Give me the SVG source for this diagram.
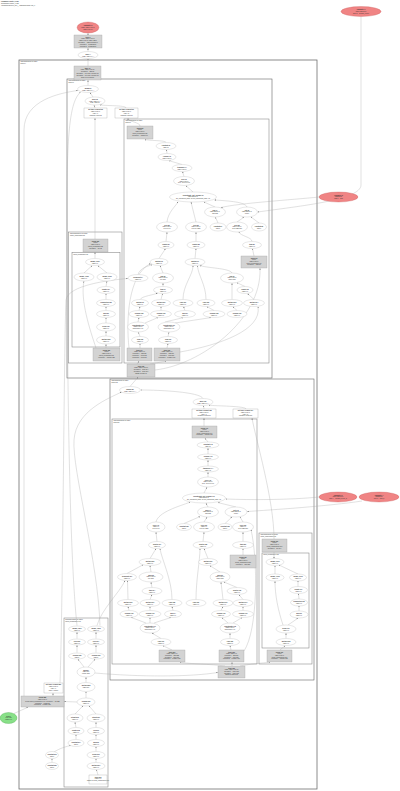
<svg xmlns="http://www.w3.org/2000/svg" width="400" height="791" viewBox="0 0 400 791">
<defs>
<marker id="a" viewBox="0 0 10 10" refX="10" refY="5" markerWidth="1.5" markerHeight="1.5" markerUnits="userSpaceOnUse" orient="auto"><path d="M0,0L10,5L0,10z" fill="#777"/></marker>
<style>
.e{fill:#fff;stroke:#b0b0b0;stroke-width:.3}
.g{fill:#d3d3d3;stroke:#999;stroke-width:.3}
.w{fill:#fff;stroke:#999;stroke-width:.3}
.r{fill:#f08484;stroke:#c45454;stroke-width:.3}
.gn{fill:#88e088;stroke:#3a9a3a;stroke-width:.3}
.c0{fill:none;stroke:#666;stroke-width:.75}
.c1{fill:none;stroke:#666;stroke-width:.6}
.c2{fill:none;stroke:#777;stroke-width:.5}
text{font-family:"Liberation Sans",Arial,sans-serif;font-size:1.5px;fill:#333;text-anchor:middle}
text.l{text-anchor:start}
text.b{font-weight:bold}
#edges path{fill:none;stroke:#a8a8a8;stroke-width:.35;marker-end:url(#a)}
</style>
</defs>
<rect width="400" height="791" fill="#fff"/>
<g id="title">
<text class="l b" x="1" y="2.2">HloModule cluster_0.156</text>
<text class="l" x="1" y="3.9">Computation cluster_0.156</text>
<text class="l" x="1" y="5.6">XlaCompiledKernel_true__XlaNumConstantArgs_0</text>
</g>

<g id="clusters">
<rect class="c0" x="19" y="60" width="298" height="729"/>
<text class="l" x="20.5" y="62.3">Subcomputation for while</text><text class="l" x="20.5" y="64">body.34</text>
<rect class="c1" x="67" y="79" width="205" height="299"/>
<text class="l" x="68.5" y="81.3">Subcomputation for while</text><text class="l" x="68.5" y="83">body.60</text>
<rect class="c2" x="124" y="119" width="145" height="244"/>
<text class="l" x="125.5" y="121.3">Subcomputation for while</text><text class="l" x="125.5" y="123">body.70</text>
<rect class="c2" x="68.5" y="232" width="53.5" height="131"/>
<text class="l" x="70" y="234.2">Subcomputation for fusion</text><text class="l" x="70" y="235.9">fused_computation.88</text>
<rect class="c2" x="72" y="252.5" width="48" height="94.5"/>
<text class="l" x="73.3" y="254.6">fused_computation.89</text>
<rect class="c1" x="110" y="379" width="204" height="301"/>
<text class="l" x="111.5" y="381.3">Subcomputation for while</text><text class="l" x="111.5" y="383">body.102</text>
<rect class="c2" x="112" y="419" width="145" height="245"/>
<text class="l" x="113.5" y="421.3">Subcomputation for while</text><text class="l" x="113.5" y="423">body.110</text>
<rect class="c2" x="259" y="533" width="53" height="131"/>
<text class="l" x="260.5" y="535.2">Subcomputation for fusion</text><text class="l" x="260.5" y="536.9">fused_computation.130</text>
<rect class="c2" x="262" y="553" width="47" height="95"/>
<text class="l" x="263.3" y="555.1">fused_computation.131</text>
<rect class="c2" x="64" y="618" width="44" height="169"/>
<text class="l" x="65.3" y="620.2">Subcomputation for fusion</text><text class="l" x="65.3" y="621.9">fused_computation.140</text>
</g>

<g id="edges">
<path d="M88 35L88 33.2"/>
<path d="M88 51.5L88 48.2"/>
<path d="M88 66L88 58.7"/>
<path d="M88 85.5L88 80.2"/>
<path d="M93 97L90 92.6"/>
<path d="M95 108L94 105.2"/>
<path d="M126 108C126 105 104 106 100 104.8"/>
<path d="M95 239L95 118.2"/>
<path d="M140 126C140 122 128 122 128 118.2"/>
<path d="M24 696L24 130C24 100 60 93 77.8 90.5"/>
<path d="M60 683C63 600 64 340 66 300C68 285 110 280 127.8 278.5"/>
<path d="M77 625.5C70 560 67 400 67 200C67 120 72 100 80.5 92.2"/>
<path d="M166 142.5C166 140 147 141 145 139.2"/>
<path d="M167 153.5L166.5 149.7"/>
<path d="M182 164.5L169 160.7"/>
<path d="M184 176.5L182.5 171.7"/>
<path d="M193 192L186 185.7"/>
<path d="M215 207L204 202"/>
<path d="M247 207C245 202 230 201 214.5 200"/>
<path d="M167 222C168 212 176 206 178 201.8"/>
<path d="M196 222L191 202.1"/>
<path d="M218 223L215.5 217.2"/>
<path d="M237 222L244 217.2"/>
<path d="M259 223L251 217"/>
<path d="M166 241.5L167 232.2"/>
<path d="M196 241.5L196 232.2"/>
<path d="M252 241.5C252 237 240 236 239 232"/>
<path d="M159 258.5L165.5 248.7"/>
<path d="M195 258.5L196 248.7"/>
<path d="M254 256L252.5 248.7"/>
<path d="M163 273L160 265.7"/>
<path d="M232 273C230 268 205 268 200 265.4"/>
<path d="M138 274.5C140 268 148 266 152 264.8"/>
<path d="M163 286.5L163 283.2"/>
<path d="M245 286.5L237 282.7"/>
<path d="M140 299.5C142 296 154 295 157.5 293"/>
<path d="M161 299.5L162.5 293.7"/>
<path d="M183 299.5C183 285 193 275 193 265.8"/>
<path d="M206 299.5C206 285 198 275 197.5 265.8"/>
<path d="M232 299.5L232 283.2"/>
<path d="M254 299.5L247.5 293.6"/>
<path d="M139 310.5L140 306.7"/>
<path d="M161 310.5L161 306.7"/>
<path d="M185 310.5L183.5 306.7"/>
<path d="M214 310.5L207 306.7"/>
<path d="M237 310.5L233 306.7"/>
<path d="M138 322L139 317.7"/>
<path d="M145 323L158 317.5"/>
<path d="M165 322L183 317.7"/>
<path d="M175 323L211 317.6"/>
<path d="M140 336.5L138.5 332.2"/>
<path d="M168 336.5L169 332.2"/>
<path d="M140 348L140 343.7"/>
<path d="M167 348L168 343.7"/>
<path d="M137 364L139 361.2"/>
<path d="M150 364L166 361.2"/>
<path d="M155 370C200 365 262 320 260 268.3"/>
<path d="M129 348C126 320 128 275 150.5 263.5"/>
<path d="M180 352C220 345 262 330 258 306.8"/>
<path d="M95 258.5L95 252.2"/>
<path d="M84 273L92 265.7"/>
<path d="M107 273L98 265.7"/>
<path d="M106 286.5L107 281.2"/>
<path d="M106 299.5L106 293.7"/>
<path d="M106 310.5L106 306.7"/>
<path d="M106 323L106 317.7"/>
<path d="M106 336L106 331.2"/>
<path d="M106 348L106 344.2"/>
<path d="M96 348C90 330 80 300 84 281.2"/>
<path d="M130 386.5L138 377.2"/>
<path d="M203 398.5C200 392 160 390 140.8 390"/>
<path d="M204 409L203.5 405.7"/>
<path d="M246 409C246 406 215 406 209 405.2"/>
<path d="M204 426L204 418.2"/>
<path d="M274 539C274 500 256 440 252 418.2"/>
<path d="M100 625.5C98 560 72 470 74 440C76 410 110 398 121.5 392"/>
<path d="M97 625.5C101 610 120 592 125 580.7"/>
<path d="M77 638.5L77 632.2"/>
<path d="M96 638.5L96 632.2"/>
<path d="M77 652.5L77 645.2"/>
<path d="M96 652.5L96 645.2"/>
<path d="M84 667L78 659.2"/>
<path d="M88 667L95 659.2"/>
<path d="M86 682.5L86 677.2"/>
<path d="M86 698L86 691.7"/>
<path d="M75 714L83 705.8"/>
<path d="M96 714L89 705.8"/>
<path d="M76 727.5L75 722.2"/>
<path d="M96 727.5L96 722.2"/>
<path d="M76 739.5L76 734.7"/>
<path d="M96 739.5L96 734.7"/>
<path d="M96 751.5L96 746.7"/>
<path d="M96 762.5L96 758.7"/>
<path d="M98 775L96.5 769.7"/>
<path d="M52 762.5L52 758.7"/>
<path d="M54 752C60 748 68 746 71 745.5"/>
<path d="M95 673C140 677 190 677 217.8 672.5"/>
<path d="M53 696L53 693.2"/>
<path d="M14 713.5L28 707.2"/>
<path d="M77 702L64.2 701.5"/>
<path d="M208 442L205 438.2"/>
<path d="M208 454L208 448.2"/>
<path d="M208 466L208 460.2"/>
<path d="M208 477L208 472.2"/>
<path d="M204 493L207 487.2"/>
<path d="M208 507L206 503.2"/>
<path d="M236 507L218 502.6"/>
<path d="M156 522C158 512 180 506 190 502.2"/>
<path d="M184 523.5L200 516.6"/>
<path d="M204 522L207 517.2"/>
<path d="M225 523.5L232 517"/>
<path d="M243 522L240 517"/>
<path d="M157 541.5L156 532.2"/>
<path d="M203 541.5L204 532.2"/>
<path d="M243 541.5L243 532.2"/>
<path d="M150 558.5L156 548.7"/>
<path d="M208 558.5L204 548.7"/>
<path d="M243 555L243 548.7"/>
<path d="M127 573.5L143 564.8"/>
<path d="M151 572L150 565.7"/>
<path d="M220 572L210 565.7"/>
<path d="M152 587.5L151 582.2"/>
<path d="M237 587.5L224 582"/>
<path d="M128 599.5L127.5 580.7"/>
<path d="M150 599.5L152 594.7"/>
<path d="M172 599.5C172 580 162 560 160 548.8"/>
<path d="M196 599.5C196 580 200 560 200 548.8"/>
<path d="M223 599.5L221 582.2"/>
<path d="M243 599.5L239 594.7"/>
<path d="M129 610.5L128 606.7"/>
<path d="M150 610.5L150 606.7"/>
<path d="M173 610.5L172 606.7"/>
<path d="M221 610.5L223 606.7"/>
<path d="M243 610.5L243 606.7"/>
<path d="M146 623L131 617.4"/>
<path d="M150 623L150 617.7"/>
<path d="M154 623L171 617.5"/>
<path d="M228 623L222 617.7"/>
<path d="M233 623L242 617.6"/>
<path d="M161 638.5L152 633.1"/>
<path d="M230 638.5L230 633.2"/>
<path d="M172 650L163 645.7"/>
<path d="M231 650L230 645.7"/>
<path d="M225 666C210 664 190 664 180 662.3"/>
<path d="M232 666L232 662.2"/>
<path d="M240 666C250 664 262 663 270 662.3"/>
<path d="M319 497C290 500 250 500 225.8 499"/>
<path d="M362 501C330 506 270 510 247.2 511.5"/>
<path d="M244 651C258 630 258 560 251 529.5"/>
<path d="M274 552L274 558.5"/>
<path d="M275 574L275 565.7"/>
<path d="M298 574L279 565"/>
<path d="M298 587L298 580.7"/>
<path d="M299 599L298.5 593.7"/>
<path d="M299 611L299 605.7"/>
<path d="M288 625L298 618.2"/>
<path d="M283 625C278 610 275 595 275 581.2"/>
<path d="M286 638.5L286 633.2"/>
<path d="M280 650L285 645.7"/>
<path d="M319 197C290 200 240 203 221 207.5"/>
<path d="M361 16.5L361 185C361 200 300 206 257.8 212"/>
</g>

<g id="n_param0"><ellipse class="r" cx="88" cy="27.5" rx="11" ry="5.5"/><text class="b" x="88" y="26.2">Parameter 0</text><text x="88" y="27.9">(s32[], f32[1,64]{1,0},</text><text x="88" y="29.6">f32[1,64]{1,0})</text></g>
<g id="n_param1"><ellipse class="r" cx="361" cy="11.5" rx="20" ry="5"/><text class="b" x="361" y="10.2">Parameter 1</text><text x="361" y="11.9">f32[64,256]{1,0}</text><text x="361" y="13.6">arg1.2 = weights_kernel</text></g>
<g id="n_param2"><ellipse class="r" cx="338.5" cy="197" rx="19.5" ry="5"/><text class="b" x="338.5" y="195.7">Parameter 2</text><text x="338.5" y="197.4">f32[256]{0}</text><text x="338.5" y="199.1">arg2.3 = bias</text></g>
<g id="n_param3"><ellipse class="r" cx="338" cy="497" rx="19" ry="5"/><text class="b" x="338" y="495.7">Parameter 3</text><text x="338" y="497.4">f32[64,256]{1,0}</text><text x="338" y="499.1">arg3.4 = weights_kernel_2</text></g>
<g id="n_param4"><ellipse class="r" cx="379" cy="497" rx="20" ry="5"/><text class="b" x="379" y="495.7">Parameter 4</text><text x="379" y="497.4">f32[256]{0}</text><text x="379" y="499.1">arg4.5 = bias_2</text></g>
<g id="n_root"><ellipse class="gn" cx="8.5" cy="718" rx="8.5" ry="5.5"/><text class="b" x="8.5" y="716.7">ROOT</text><text x="8.5" y="718.4">tuple.155</text><text x="8.5" y="720.1">(f32[1,64])</text></g>

<g id="n_tuple3"><rect class="g" x="74" y="35" width="28" height="13"/><text class="b" x="88" y="37.6">tuple.3</text><text x="88" y="39.4">(s32[], f32[1,64]{1,0},</text><text x="88" y="41.2">f32[1,64]{1,0}, f32[64,256])</text><text x="88" y="43">operand 0 = s32[] constant(0)</text><text x="88" y="44.8">operand 1 = broadcast.2</text><text x="88" y="46.6">operand 2 = broadcast.2</text></g>
<g id="n_while4"><ellipse class="e" cx="88" cy="55" rx="10" ry="3.5"/><text class="b" x="88" y="54.8">while.4</text><text x="88" y="56.5">(s32[], f32[1,64]...)</text></g>
<g id="n_tuple40"><rect class="g" x="74" y="66" width="27" height="14"/><text class="b" x="87.5" y="68.6">tuple.40</text><text x="87.5" y="70.4">(s32[], f32[1,64]{1,0})</text><text x="87.5" y="72.2">operand 0 = add.38</text><text x="87.5" y="74">operand 1 = get-tuple-element.39</text><text x="87.5" y="75.8">operand 2 = get-tuple-element.37</text><text x="87.5" y="77.6">Tuple of 5 elements</text></g>
<g id="n_param21"><ellipse class="e" cx="88" cy="89" rx="10.5" ry="3.5"/><text class="b" x="88" y="88.8">param.21</text><text x="88" y="90.5">(s32[], f32[1,64]...)</text></g>
<g id="n_while30"><ellipse class="e" cx="95" cy="101" rx="10" ry="4"/><text class="b" x="95" y="99.8">while.30</text><text x="95" y="101.5">(s32[], f32[1,64]...)</text><text x="95" y="103.2">body=body.60</text></g>
<g id="n_gte35"><rect class="w" x="84" y="108" width="23" height="10"/><text class="b" x="95.5" y="110.4">get-tuple-element.35</text><text x="95.5" y="112.1">f32[1,64]{1,0}</text><text x="95.5" y="113.8">index=1</text><text x="95.5" y="115.5">condition: cond.32</text></g>
<g id="n_gte36"><rect class="w" x="115" y="108" width="23" height="10"/><text class="b" x="126.5" y="110.4">get-tuple-element.36</text><text x="126.5" y="112.1">f32[1,64]{1,0}</text><text x="126.5" y="113.8">index=2</text><text x="126.5" y="115.5">condition: cond.33</text></g>

<g id="n_fusion80"><rect class="g" x="127" y="126" width="26" height="13"/><text class="b" x="140" y="128.6">fusion.80</text><text x="140" y="130.4">kLoop</text><text x="140" y="132.2">f32[1,64]{1,0}</text><text x="140" y="134">fused_computation.81</text><text x="140" y="135.8">operand 0 = multiply.79</text></g>
<g id="n_c72"><ellipse class="e" cx="166" cy="146" rx="10" ry="3.5"/><text class="b" x="166" y="145.8">constant.72</text><text x="166" y="147.5">f32[] 0.5</text></g>
<g id="n_bc73"><ellipse class="e" cx="167" cy="157" rx="9" ry="3.5"/><text class="b" x="167" y="156.8">reshape.73</text><text x="167" y="158.5">f32[1,64]{1,0}</text></g>
<g id="n_s74"><ellipse class="e" cx="182" cy="168" rx="10" ry="3.5"/><text class="b" x="182" y="167.8">transpose.74</text><text x="182" y="169.5">f32[64,1]{1,0}</text></g>
<g id="n_s75"><ellipse class="e" cx="184" cy="181" rx="10.5" ry="4.5"/><text class="b" x="184" y="179.8">slice.75</text><text x="184" y="181.5">f32[1,64]{1,0}</text><text x="184" y="183.2">slice={[0:1],[0:64]}</text></g>
<g id="n_dot76"><ellipse class="e" cx="193" cy="197" rx="23.5" ry="5"/><text class="b" x="193" y="195.7">concatenate_dot_reshape.76</text><text x="193" y="197.4">f32[1,256]{1,0}</text><text x="193" y="199.1">lhs_contracting_dims={1} rhs_contracting_dims={0}</text></g>
<g id="n_add77"><ellipse class="e" cx="215" cy="212" rx="10.5" ry="5"/><text class="b" x="215" y="210.7">add.77</text><text x="215" y="212.4">f32[1,256]{1,0}</text><text x="215" y="214.1">bias add</text></g>
<g id="n_dot78"><ellipse class="e" cx="247" cy="212" rx="10.5" ry="5"/><text class="b" x="247" y="210.7">dot.78</text><text x="247" y="212.4">f32[1,256]{1,0}</text><text x="247" y="214.1">kernel</text></g>
<g id="n_sl1"><ellipse class="e" cx="167" cy="227" rx="10.5" ry="5"/><text class="b" x="167" y="225.7">slice.82</text><text x="167" y="227.4">f32[1,64]{1,0}</text><text x="167" y="229.1">[0:1],[0:64]</text></g>
<g id="n_sl2"><ellipse class="e" cx="196" cy="227" rx="10.5" ry="5"/><text class="b" x="196" y="225.7">slice.83</text><text x="196" y="227.4">f32[1,64]{1,0}</text><text x="196" y="229.1">[0:1],[64:128]</text></g>
<g id="n_c84"><ellipse class="e" cx="218" cy="227" rx="8" ry="4"/><text class="b" x="218" y="226.8">constant.84</text><text x="218" y="228.5">f32[] 1</text></g>
<g id="n_sl3"><ellipse class="e" cx="237" cy="227" rx="10.5" ry="5"/><text class="b" x="237" y="225.7">slice.85</text><text x="237" y="227.4">f32[1,64]{1,0}</text><text x="237" y="229.1">[0:1],[128:192]</text></g>
<g id="n_c86"><ellipse class="e" cx="259" cy="227" rx="7.5" ry="4"/><text class="b" x="259" y="226.8">constant.86</text><text x="259" y="228.5">f32[] 0</text></g>
<g id="n_lg1"><ellipse class="e" cx="166" cy="245" rx="8" ry="3.5"/><text class="b" x="166" y="244.8">logistic.87</text><text x="166" y="246.5">f32[1,64]</text></g>
<g id="n_lg2"><ellipse class="e" cx="196" cy="245" rx="9" ry="3.5"/><text class="b" x="196" y="244.8">logistic.88</text><text x="196" y="246.5">f32[1,64]</text></g>
<g id="n_tanh1"><ellipse class="e" cx="252" cy="245" rx="9.5" ry="3.5"/><text class="b" x="252" y="244.8">tanh.89</text><text x="252" y="246.5">f32[1,64]</text></g>
<g id="n_m1"><ellipse class="e" cx="159" cy="262" rx="9" ry="3.5"/><text class="b" x="159" y="261.8">multiply.90</text><text x="159" y="263.5">f32[1,64]</text></g>
<g id="n_m2"><ellipse class="e" cx="195" cy="262" rx="10" ry="3.5"/><text class="b" x="195" y="261.8">multiply.91</text><text x="195" y="263.5">f32[1,64]</text></g>
<g id="n_fusion92"><rect class="g" x="241" y="256" width="26" height="12"/><text class="b" x="254" y="258.5">fusion.92</text><text x="254" y="260.2">kLoop</text><text x="254" y="261.9">f32[1,64]{1,0}</text><text x="254" y="263.6">fused_computation.93</text><text x="254" y="265.3">operand 0 = tanh.89</text></g>
<g id="n_bc94"><ellipse class="e" cx="138" cy="278" rx="10" ry="3.5"/><text class="b" x="138" y="277.8">broadcast.94</text><text x="138" y="279.5">f32[1,64]</text></g>
<g id="n_add95"><ellipse class="e" cx="163" cy="278" rx="10.5" ry="5"/><text class="b" x="163" y="276.7">add.95</text><text x="163" y="278.4">f32[1,64]{1,0}</text><text x="163" y="280.1">cell state</text></g>
<g id="n_add96"><ellipse class="e" cx="232" cy="278" rx="11.5" ry="5"/><text class="b" x="232" y="276.7">add.96</text><text x="232" y="278.4">f32[1,64]{1,0}</text><text x="232" y="280.1">forget bias</text></g>
<g id="n_t97"><ellipse class="e" cx="163" cy="290" rx="9.5" ry="3.5"/><text class="b" x="163" y="289.8">tanh.97</text><text x="163" y="291.5">f32[1,64]</text></g>
<g id="n_lg98"><ellipse class="e" cx="245" cy="290" rx="8" ry="3.5"/><text class="b" x="245" y="289.8">logistic.98</text><text x="245" y="291.5">f32[1,64]</text></g>
<g id="n_r303a"><ellipse class="e" cx="140" cy="303" rx="8.5" ry="3.5"/><text class="b" x="140" y="302.8">multiply.99</text><text x="140" y="304.5">f32[1,64]</text></g>
<g id="n_r303b"><ellipse class="e" cx="161" cy="303" rx="9.5" ry="3.5"/><text class="b" x="161" y="302.8">multiply.100</text><text x="161" y="304.5">f32[1,64]</text></g>
<g id="n_r303c"><ellipse class="e" cx="183" cy="303" rx="10" ry="3.5"/><text class="b" x="183" y="302.8">copy.101</text><text x="183" y="304.5">f32[1,64]</text></g>
<g id="n_r303d"><ellipse class="e" cx="206" cy="303" rx="9" ry="3.5"/><text class="b" x="206" y="302.8">copy.102</text><text x="206" y="304.5">f32[1,64]</text></g>
<g id="n_r303e"><ellipse class="e" cx="232" cy="303" rx="10.5" ry="3.5"/><text class="b" x="232" y="302.8">multiply.103</text><text x="232" y="304.5">f32[1,64]</text></g>
<g id="n_r303f"><ellipse class="e" cx="254" cy="303" rx="10.5" ry="3.5"/><text class="b" x="254" y="302.8">multiply.104</text><text x="254" y="304.5">f32[1,64]</text></g>
<g id="n_r314a"><ellipse class="e" cx="139" cy="314" rx="10" ry="3.5"/><text class="b" x="139" y="313.8">reshape.105</text><text x="139" y="315.5">f32[1,64]</text></g>
<g id="n_r314b"><ellipse class="e" cx="161" cy="314" rx="10.5" ry="3.5"/><text class="b" x="161" y="313.8">reshape.106</text><text x="161" y="315.5">f32[1,64]</text></g>
<g id="n_r314c"><ellipse class="e" cx="185" cy="314" rx="10.5" ry="3.5"/><text class="b" x="185" y="313.8">add.107</text><text x="185" y="315.5">f32[1,64]</text></g>
<g id="n_r314d"><ellipse class="e" cx="214" cy="314" rx="11" ry="3.5"/><text class="b" x="214" y="313.8">reshape.108</text><text x="214" y="315.5">f32[1,64]</text></g>
<g id="n_r314e"><ellipse class="e" cx="237" cy="314" rx="10" ry="3.5"/><text class="b" x="237" y="313.8">reshape.109</text><text x="237" y="315.5">f32[1,64]</text></g>
<g id="n_cc1"><ellipse class="e" cx="138" cy="327" rx="10.5" ry="5"/><text class="b" x="138" y="325.7">concatenate.110</text><text x="138" y="327.4">f32[2,64]{1,0}</text><text x="138" y="329.1">dimensions={0}</text></g>
<g id="n_cc2"><ellipse class="e" cx="169" cy="327" rx="11" ry="5"/><text class="b" x="169" y="325.7">concatenate.111</text><text x="169" y="327.4">f32[2,64]{1,0}</text><text x="169" y="329.1">dimensions={0}</text></g>
<g id="n_cp1"><ellipse class="e" cx="140" cy="340" rx="8.5" ry="3.5"/><text class="b" x="140" y="339.8">copy.112</text><text x="140" y="341.5">f32[2,64]</text></g>
<g id="n_cp2"><ellipse class="e" cx="168" cy="340" rx="9.5" ry="3.5"/><text class="b" x="168" y="339.8">copy.113</text><text x="168" y="341.5">f32[2,64]</text></g>
<g id="n_tup114"><rect class="g" x="127" y="348" width="25" height="13"/><text class="b" x="139.5" y="350.6">tuple.114</text><text x="139.5" y="352.4">(s32[], f32[1,64])</text><text x="139.5" y="354.2">operand 0 = add.115</text><text x="139.5" y="356">operand 1 = copy.112</text><text x="139.5" y="357.8">operand 2 = copy.113</text></g>
<g id="n_tup116"><rect class="g" x="154" y="348" width="26" height="13"/><text class="b" x="167" y="350.6">tuple.116</text><text x="167" y="352.4">(s32[], f32[1,64])</text><text x="167" y="354.2">operand 0 = add.117</text><text x="167" y="356">operand 1 = copy.113</text><text x="167" y="357.8">operand 2 = reshape.109</text></g>
<g id="n_tup118"><rect class="g" x="127" y="364" width="28" height="13"/><text class="b" x="141" y="366.6">tuple.118</text><text x="141" y="368.4">(s32[], f32[1,64]{1,0})</text><text x="141" y="370.2">operand 0 = tuple.114</text><text x="141" y="372">operand 1 = tuple.116</text><text x="141" y="373.8">ROOT of body.60</text></g>

<g id="n_fusion120"><rect class="g" x="83" y="239" width="25" height="13"/><text class="b" x="95.5" y="241.6">fusion.120</text><text x="95.5" y="243.4">kLoop</text><text x="95.5" y="245.2">f32[1,64]{1,0}</text><text x="95.5" y="247">fused_computation.88</text><text x="95.5" y="248.8">operand 0 = gte.35</text></g>
<g id="n_f1"><ellipse class="e" cx="95" cy="262" rx="9.5" ry="3.5"/><text class="b" x="95" y="261.8">param_0.121</text><text x="95" y="263.5">f32[1,64]</text></g>
<g id="n_f2"><ellipse class="e" cx="84" cy="277" rx="10" ry="4"/><text class="b" x="84" y="276.8">param_1.122</text><text x="84" y="278.5">f32[1,64]</text></g>
<g id="n_f3"><ellipse class="e" cx="107" cy="277" rx="10" ry="4"/><text class="b" x="107" y="276.8">param_2.123</text><text x="107" y="278.5">f32[1,64]</text></g>
<g id="n_f4"><ellipse class="e" cx="106" cy="290" rx="9" ry="3.5"/><text class="b" x="106" y="289.8">negate.124</text><text x="106" y="291.5">f32[1,64]</text></g>
<g id="n_f5"><ellipse class="e" cx="106" cy="303" rx="9.5" ry="3.5"/><text class="b" x="106" y="302.8">exponential.125</text><text x="106" y="304.5">f32[1,64]</text></g>
<g id="n_f6"><ellipse class="e" cx="106" cy="314" rx="9.5" ry="3.5"/><text class="b" x="106" y="313.8">add.126</text><text x="106" y="315.5">f32[1,64]</text></g>
<g id="n_f7"><ellipse class="e" cx="106" cy="327" rx="9.5" ry="4"/><text class="b" x="106" y="326.8">divide.127</text><text x="106" y="328.5">f32[1,64]</text></g>
<g id="n_f8"><ellipse class="e" cx="106" cy="340" rx="9.5" ry="4"/><text class="b" x="106" y="339.8">multiply.128</text><text x="106" y="341.5">f32[1,64]</text></g>
<g id="n_fusion129"><rect class="g" x="93" y="348" width="27" height="13"/><text class="b" x="106.5" y="350.6">fusion.129</text><text x="106.5" y="352.4">kLoop</text><text x="106.5" y="354.2">f32[1,64]{1,0}</text><text x="106.5" y="356">fused_computation.89</text><text x="106.5" y="357.8">operand 0 = multiply.128</text></g>

<g id="n_gte130"><ellipse class="e" cx="130" cy="390" rx="10.5" ry="3.5"/><text class="b" x="130" y="389.8">param.130</text><text x="130" y="391.5">(s32[], f32[1,64]...)</text></g>
<g id="n_while131"><ellipse class="e" cx="203" cy="402" rx="10" ry="3.5"/><text class="b" x="203" y="401.8">while.131</text><text x="203" y="403.5">(s32[], f32[1,64]...)</text></g>
<g id="n_gte132"><rect class="w" x="192" y="409" width="24" height="9"/><text class="b" x="204" y="411.2">get-tuple-element.132</text><text x="204" y="412.9">f32[1,64]{1,0}</text><text x="204" y="414.6">index=1</text><text x="204" y="416.3">condition: cond.133</text></g>
<g id="n_gte134"><rect class="w" x="233" y="409" width="25" height="9"/><text class="b" x="245.5" y="411.2">get-tuple-element.134</text><text x="245.5" y="412.9">f32[1,64]{1,0}</text><text x="245.5" y="414.6">index=2</text><text x="245.5" y="416.3">condition: cond.135</text></g>

<g id="n_fusion140"><rect class="g" x="192" y="426" width="25" height="12"/><text class="b" x="204.5" y="428.5">fusion.140</text><text x="204.5" y="430.2">kLoop</text><text x="204.5" y="431.9">f32[1,64]{1,0}</text><text x="204.5" y="433.6">fused_computation.141</text><text x="204.5" y="435.3">operand 0 = multiply.139</text></g>
<g id="n_b1"><ellipse class="e" cx="208" cy="445" rx="11" ry="3"/><text class="b" x="208" y="444.8">constant.142</text><text x="208" y="446.5">f32[] 0.5</text></g>
<g id="n_b2"><ellipse class="e" cx="208" cy="457" rx="10.5" ry="3"/><text class="b" x="208" y="456.8">reshape.143</text><text x="208" y="458.5">f32[1,64]</text></g>
<g id="n_b3"><ellipse class="e" cx="208" cy="469" rx="10.5" ry="3"/><text class="b" x="208" y="468.8">transpose.144</text><text x="208" y="470.5">f32[64,1]</text></g>
<g id="n_b4"><ellipse class="e" cx="208" cy="482" rx="10.5" ry="5"/><text class="b" x="208" y="480.7">slice.145</text><text x="208" y="482.4">f32[1,64]{1,0}</text><text x="208" y="484.1">slice={[0:1],[0:64]}</text></g>
<g id="n_b5"><ellipse class="e" cx="204" cy="498" rx="21.5" ry="5"/><text class="b" x="204" y="496.7">concatenate_dot_reshape.146</text><text x="204" y="498.4">f32[1,256]{1,0}</text><text x="204" y="500.1">lhs_contracting_dims={1} rhs_contracting_dims={0}</text></g>
<g id="n_b6"><ellipse class="e" cx="208" cy="512" rx="10.5" ry="5"/><text class="b" x="208" y="510.7">add.147</text><text x="208" y="512.4">f32[1,256]{1,0}</text><text x="208" y="514.1">bias add</text></g>
<g id="n_b7"><ellipse class="e" cx="236" cy="512" rx="11" ry="5"/><text class="b" x="236" y="510.7">dot.148</text><text x="236" y="512.4">f32[1,256]{1,0}</text><text x="236" y="514.1">kernel</text></g>
<g id="n_b8"><ellipse class="e" cx="156" cy="527" rx="9" ry="5"/><text class="b" x="156" y="525.7">slice.149</text><text x="156" y="527.4">f32[1,64]</text><text x="156" y="529.1">[0:1],[0:64]</text></g>
<g id="n_b9"><ellipse class="e" cx="184" cy="527" rx="7.5" ry="3.5"/><text class="b" x="184" y="526.8">constant.150</text><text x="184" y="528.5">f32[] 1</text></g>
<g id="n_b10"><ellipse class="e" cx="204" cy="527" rx="10.5" ry="5"/><text class="b" x="204" y="525.7">slice.151</text><text x="204" y="527.4">f32[1,64]</text><text x="204" y="529.1">[0:1],[64:128]</text></g>
<g id="n_b11"><ellipse class="e" cx="225" cy="527" rx="7" ry="3.5"/><text class="b" x="225" y="526.8">constant.152</text><text x="225" y="528.5">f32[] 0</text></g>
<g id="n_b12"><ellipse class="e" cx="243" cy="527" rx="10.5" ry="5"/><text class="b" x="243" y="525.7">slice.153</text><text x="243" y="527.4">f32[1,64]</text><text x="243" y="529.1">[0:1],[128:192]</text></g>
<g id="n_b13"><ellipse class="e" cx="157" cy="545" rx="8.5" ry="3.5"/><text class="b" x="157" y="544.8">logistic.154</text><text x="157" y="546.5">f32[1,64]</text></g>
<g id="n_b14"><ellipse class="e" cx="203" cy="545" rx="10" ry="3.5"/><text class="b" x="203" y="544.8">logistic.155</text><text x="203" y="546.5">f32[1,64]</text></g>
<g id="n_b15"><ellipse class="e" cx="243" cy="545" rx="10.5" ry="3.5"/><text class="b" x="243" y="544.8">tanh.156</text><text x="243" y="546.5">f32[1,64]</text></g>
<g id="n_fusion157"><rect class="g" x="230" y="555" width="26" height="13"/><text class="b" x="243" y="557.6">fusion.157</text><text x="243" y="559.4">kLoop</text><text x="243" y="561.2">f32[1,64]{1,0}</text><text x="243" y="563">fused_computation.158</text><text x="243" y="564.8">operand 0 = tanh.156</text></g>
<g id="n_b16"><ellipse class="e" cx="150" cy="562" rx="11" ry="3.5"/><text class="b" x="150" y="561.8">multiply.159</text><text x="150" y="563.5">f32[1,64]</text></g>
<g id="n_b17"><ellipse class="e" cx="208" cy="562" rx="9.5" ry="3.5"/><text class="b" x="208" y="561.8">multiply.160</text><text x="208" y="563.5">f32[1,64]</text></g>
<g id="n_b18"><ellipse class="e" cx="127" cy="577" rx="9.5" ry="3.5"/><text class="b" x="127" y="576.8">broadcast.161</text><text x="127" y="578.5">f32[1,64]</text></g>
<g id="n_b19"><ellipse class="e" cx="151" cy="577" rx="12" ry="5"/><text class="b" x="151" y="575.7">add.162</text><text x="151" y="577.4">f32[1,64]{1,0}</text><text x="151" y="579.1">cell state</text></g>
<g id="n_b20"><ellipse class="e" cx="220" cy="577" rx="10" ry="5"/><text class="b" x="220" y="575.7">add.163</text><text x="220" y="577.4">f32[1,64]{1,0}</text><text x="220" y="579.1">forget bias</text></g>
<g id="n_b21"><ellipse class="e" cx="152" cy="591" rx="10" ry="3.5"/><text class="b" x="152" y="590.8">tanh.164</text><text x="152" y="592.5">f32[1,64]</text></g>
<g id="n_b22"><ellipse class="e" cx="237" cy="591" rx="10" ry="3.5"/><text class="b" x="237" y="590.8">logistic.165</text><text x="237" y="592.5">f32[1,64]</text></g>
<g id="n_b23"><ellipse class="e" cx="128" cy="603" rx="10.5" ry="3.5"/><text class="b" x="128" y="602.8">multiply.166</text><text x="128" y="604.5">f32[1,64]</text></g>
<g id="n_b24"><ellipse class="e" cx="150" cy="603" rx="10" ry="3.5"/><text class="b" x="150" y="602.8">multiply.167</text><text x="150" y="604.5">f32[1,64]</text></g>
<g id="n_b25"><ellipse class="e" cx="172" cy="603" rx="10" ry="3.5"/><text class="b" x="172" y="602.8">copy.168</text><text x="172" y="604.5">f32[1,64]</text></g>
<g id="n_b26"><ellipse class="e" cx="196" cy="603" rx="10" ry="3.5"/><text class="b" x="196" y="602.8">copy.169</text><text x="196" y="604.5">f32[1,64]</text></g>
<g id="n_b27"><ellipse class="e" cx="223" cy="603" rx="10" ry="3.5"/><text class="b" x="223" y="602.8">multiply.170</text><text x="223" y="604.5">f32[1,64]</text></g>
<g id="n_b28"><ellipse class="e" cx="243" cy="603" rx="10" ry="3.5"/><text class="b" x="243" y="602.8">multiply.171</text><text x="243" y="604.5">f32[1,64]</text></g>
<g id="n_b29"><ellipse class="e" cx="129" cy="614" rx="9" ry="3.5"/><text class="b" x="129" y="613.8">reshape.172</text><text x="129" y="615.5">f32[1,64]</text></g>
<g id="n_b30"><ellipse class="e" cx="150" cy="614" rx="11" ry="3.5"/><text class="b" x="150" y="613.8">reshape.173</text><text x="150" y="615.5">f32[1,64]</text></g>
<g id="n_b31"><ellipse class="e" cx="173" cy="614" rx="8.5" ry="3.5"/><text class="b" x="173" y="613.8">add.174</text><text x="173" y="615.5">f32[1,64]</text></g>
<g id="n_b32"><ellipse class="e" cx="221" cy="614" rx="9.5" ry="3.5"/><text class="b" x="221" y="613.8">reshape.175</text><text x="221" y="615.5">f32[1,64]</text></g>
<g id="n_b33"><ellipse class="e" cx="243" cy="614" rx="10.5" ry="3.5"/><text class="b" x="243" y="613.8">reshape.176</text><text x="243" y="615.5">f32[1,64]</text></g>
<g id="n_b34"><ellipse class="e" cx="150" cy="628" rx="10" ry="5"/><text class="b" x="150" y="626.7">concatenate.177</text><text x="150" y="628.4">f32[2,64]{1,0}</text><text x="150" y="630.1">dimensions={0}</text></g>
<g id="n_b35"><ellipse class="e" cx="230" cy="628" rx="10" ry="5"/><text class="b" x="230" y="626.7">concatenate.178</text><text x="230" y="628.4">f32[2,64]{1,0}</text><text x="230" y="630.1">dimensions={0}</text></g>
<g id="n_b36"><ellipse class="e" cx="161" cy="642" rx="10" ry="3.5"/><text class="b" x="161" y="641.8">copy.179</text><text x="161" y="643.5">f32[2,64]</text></g>
<g id="n_b37"><ellipse class="e" cx="230" cy="642" rx="9.5" ry="3.5"/><text class="b" x="230" y="641.8">copy.180</text><text x="230" y="643.5">f32[2,64]</text></g>
<g id="n_tup181"><rect class="g" x="159" y="650" width="26" height="12"/><text class="b" x="172" y="652.5">tuple.181</text><text x="172" y="654.2">(s32[], f32[1,64])</text><text x="172" y="655.9">operand 0 = add.182</text><text x="172" y="657.6">operand 1 = copy.179</text><text x="172" y="659.3">operand 2 = reshape.172</text></g>
<g id="n_tup183"><rect class="g" x="219" y="650" width="25" height="12"/><text class="b" x="231.5" y="652.5">tuple.183</text><text x="231.5" y="654.2">(s32[], f32[1,64])</text><text x="231.5" y="655.9">operand 0 = add.184</text><text x="231.5" y="657.6">operand 1 = copy.180</text><text x="231.5" y="659.3">operand 2 = reshape.176</text></g>
<g id="n_tup185"><rect class="g" x="218" y="666" width="27" height="12"/><text class="b" x="231.5" y="668.5">tuple.185</text><text x="231.5" y="670.2">(s32[], f32[1,64]{1,0})</text><text x="231.5" y="671.9">operand 0 = tuple.181</text><text x="231.5" y="673.6">operand 1 = tuple.183</text><text x="231.5" y="675.3">ROOT of body.102</text></g>

<g id="n_fusion190"><rect class="g" x="262" y="539" width="25" height="13"/><text class="b" x="274.5" y="541.6">fusion.190</text><text x="274.5" y="543.4">kLoop</text><text x="274.5" y="545.2">f32[1,64]{1,0}</text><text x="274.5" y="547">fused_computation.130</text><text x="274.5" y="548.8">operand 0 = gte.134</text></g>
<g id="n_g1"><ellipse class="e" cx="275" cy="562" rx="9" ry="3.5"/><text class="b" x="275" y="561.8">param_0.191</text><text x="275" y="563.5">f32[1,64]</text></g>
<g id="n_g2"><ellipse class="e" cx="275" cy="577.5" rx="9" ry="3.5"/><text class="b" x="275" y="577.3">param_1.192</text><text x="275" y="579">f32[1,64]</text></g>
<g id="n_g3"><ellipse class="e" cx="298" cy="577.5" rx="8.5" ry="3.5"/><text class="b" x="298" y="577.3">param_2.193</text><text x="298" y="579">f32[1,64]</text></g>
<g id="n_g4"><ellipse class="e" cx="298.5" cy="590" rx="9" ry="3.5"/><text class="b" x="298.5" y="589.8">negate.194</text><text x="298.5" y="591.5">f32[1,64]</text></g>
<g id="n_g5"><ellipse class="e" cx="299" cy="602.5" rx="8.5" ry="3.5"/><text class="b" x="299" y="602.3">exponential.195</text><text x="299" y="604">f32[1,64]</text></g>
<g id="n_g6"><ellipse class="e" cx="299" cy="614.5" rx="9" ry="3.5"/><text class="b" x="299" y="614.3">add.196</text><text x="299" y="616">f32[1,64]</text></g>
<g id="n_g7"><ellipse class="e" cx="286" cy="629" rx="10" ry="4"/><text class="b" x="286" y="628.8">divide.197</text><text x="286" y="630.5">f32[1,64]</text></g>
<g id="n_g8"><ellipse class="e" cx="286" cy="642" rx="10" ry="3.5"/><text class="b" x="286" y="641.8">multiply.198</text><text x="286" y="643.5">f32[1,64]</text></g>
<g id="n_fusion199"><rect class="g" x="267" y="650" width="25" height="12"/><text class="b" x="279.5" y="652.5">fusion.199</text><text x="279.5" y="654.2">kLoop</text><text x="279.5" y="655.9">f32[1,64]{1,0}</text><text x="279.5" y="657.6">fused_computation.131</text><text x="279.5" y="659.3">operand 0 = multiply.198</text></g>

<g id="n_h1"><ellipse class="e" cx="77" cy="629" rx="8.5" ry="3"/><text class="b" x="77" y="628.8">param_0.201</text><text x="77" y="630.5">f32[1,64]</text></g>
<g id="n_h2"><ellipse class="e" cx="96" cy="629" rx="8.5" ry="3"/><text class="b" x="96" y="628.8">param_1.202</text><text x="96" y="630.5">f32[1,64]</text></g>
<g id="n_h3"><ellipse class="e" cx="77" cy="642" rx="8.5" ry="3"/><text class="b" x="77" y="641.8">slice.203</text><text x="77" y="643.5">f32[1,64]</text></g>
<g id="n_h4"><ellipse class="e" cx="96" cy="642" rx="8.5" ry="3"/><text class="b" x="96" y="641.8">slice.204</text><text x="96" y="643.5">f32[1,64]</text></g>
<g id="n_h5"><ellipse class="e" cx="77" cy="656" rx="8.5" ry="3"/><text class="b" x="77" y="655.8">reshape.205</text><text x="77" y="657.5">f32[64]</text></g>
<g id="n_h6"><ellipse class="e" cx="96" cy="656" rx="8.5" ry="3"/><text class="b" x="96" y="655.8">reshape.206</text><text x="96" y="657.5">f32[64]</text></g>
<g id="n_h7"><ellipse class="e" cx="86" cy="672" rx="9" ry="5"/><text class="b" x="86" y="670.7">add.207</text><text x="86" y="672.4">f32[64]{0}</text><text x="86" y="674.1">output state</text></g>
<g id="n_h8"><ellipse class="e" cx="86" cy="687" rx="9" ry="4.5"/><text class="b" x="86" y="686.2">multiply.208</text><text x="86" y="687.9">f32[64]{0}</text></g>
<g id="n_h9"><ellipse class="e" cx="86" cy="702" rx="9" ry="4"/><text class="b" x="86" y="701.8">reshape.209</text><text x="86" y="703.5">f32[1,64]</text></g>
<g id="n_h10"><ellipse class="e" cx="75" cy="718" rx="8" ry="4"/><text class="b" x="75" y="717.8">bitcast.210</text><text x="75" y="719.5">f32[1,64]</text></g>
<g id="n_h11"><ellipse class="e" cx="96" cy="718" rx="9" ry="4"/><text class="b" x="96" y="717.8">bitcast.211</text><text x="96" y="719.5">f32[1,64]</text></g>
<g id="n_h12"><ellipse class="e" cx="76" cy="731" rx="8" ry="3.5"/><text class="b" x="76" y="730.8">negate.212</text><text x="76" y="732.5">f32[1,64]</text></g>
<g id="n_h13"><ellipse class="e" cx="96" cy="731" rx="8.5" ry="3.5"/><text class="b" x="96" y="730.8">exp.213</text><text x="96" y="732.5">f32[1,64]</text></g>
<g id="n_h14"><ellipse class="e" cx="76" cy="743" rx="8" ry="3.5"/><text class="b" x="76" y="742.8">constant.214</text><text x="76" y="744.5">f32[] 1</text></g>
<g id="n_h15"><ellipse class="e" cx="96" cy="743" rx="8.5" ry="3.5"/><text class="b" x="96" y="742.8">add.215</text><text x="96" y="744.5">f32[1,64]</text></g>
<g id="n_h16"><ellipse class="e" cx="96" cy="755" rx="9" ry="3.5"/><text class="b" x="96" y="754.8">divide.216</text><text x="96" y="756.5">f32[1,64]</text></g>
<g id="n_h17"><ellipse class="e" cx="96" cy="766" rx="9" ry="3.5"/><text class="b" x="96" y="765.8">multiply.217</text><text x="96" y="767.5">f32[1,64]</text></g>
<g id="n_h18"><rect class="w" x="89" y="775" width="18" height="9"/><text class="b" x="98" y="777.5">tuple.218</text><text x="98" y="779.2">(f32[1,64])</text><text x="98" y="780.9">ROOT of fused_computation.140</text></g>
<g id="n_c219"><ellipse class="e" cx="52" cy="755" rx="6.5" ry="3.5"/><text class="b" x="52" y="754.8">constant.219</text><text x="52" y="756.5">f32[] 0</text></g>
<g id="n_c220"><ellipse class="e" cx="52" cy="766" rx="6.5" ry="3.5"/><text class="b" x="52" y="765.8">constant.220</text><text x="52" y="767.5">f32[] 1</text></g>
<g id="n_gte221"><rect class="w" x="44" y="683" width="19" height="10"/><text class="b" x="53.5" y="685.4">get-tuple-element.221</text><text x="53.5" y="687.1">f32[1,64]{1,0}</text><text x="53.5" y="688.8">index=1</text><text x="53.5" y="690.5">while.4 output</text></g>
<g id="n_fusion222"><rect class="g" x="21" y="696" width="43" height="11"/><text class="b" x="42.5" y="698.4">fusion.222</text><text x="42.5" y="700.1">f32[1,64]{1,0}</text><text x="42.5" y="701.8">kLoop fused_computation.140, operand 0 = gte.221</text><text x="42.5" y="703.5">operand 1 = param.21</text><text x="42.5" y="705.2">operand 2 = reshape.209</text></g>
</svg>
